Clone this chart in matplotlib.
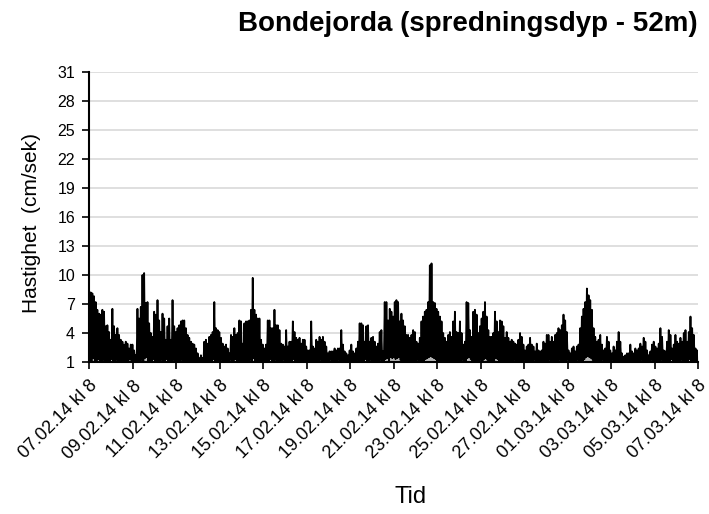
import matplotlib
matplotlib.use('Agg')
import matplotlib.pyplot as plt
import numpy as np
import pandas as pd

plt.rcParams['font.family'] = ['Liberation Sans', 'DejaVu Sans']

# time span of the record
start = '2014-02-07 08:00'
end = '2014-03-07 08:00'

# local maxima of current speed (cm/s), read left to right
peaks = [
    8.4, 8.2, 8.1, 7.8, 7.2, 6.4, 6.0, 5.9, 6.4, 6.2,
    4.7, 4.8, 4.1, 3.3, 6.5, 4.7, 3.8, 4.5, 3.8, 3.3,
    3.1, 2.8, 3.1, 2.9, 2.4, 2.8, 2.8, 2.2, 1.7, 6.5,
    5.5, 6.7, 10.0, 10.2, 7.1, 7.2, 5.0, 4.0, 3.6, 6.2,
    5.9, 7.4, 5.3, 4.1, 6.0, 5.5, 3.3, 4.7, 5.5, 3.3,
    7.4, 4.7, 4.1, 4.5, 4.8, 5.2, 5.3, 5.3, 4.5, 3.8,
    3.5, 3.1, 2.9, 2.8, 2.4, 1.9, 1.4, 1.7, 1.4, 3.1,
    3.3, 2.9, 3.6, 3.8, 4.1, 7.2, 4.5, 4.3, 4.1, 3.5,
    2.9, 2.6, 2.8, 2.4, 1.9, 3.8, 3.6, 4.5, 3.8, 4.0,
    5.3, 5.2, 2.9, 5.0, 5.2, 5.2, 5.3, 6.4, 9.7, 6.4,
    5.9, 5.5, 5.5, 3.3, 2.8, 2.4, 2.8, 5.3, 5.3, 4.5,
    4.5, 6.4, 4.8, 4.8, 4.3, 2.9, 2.8, 2.6, 4.3, 2.6,
    3.1, 3.1, 5.2, 4.1, 3.5, 3.3, 3.5, 2.9, 3.3, 3.3,
    2.6, 2.2, 2.2, 5.2, 2.6, 2.4, 3.3, 3.1, 3.6, 3.3,
    3.6, 3.1, 2.6, 1.9, 2.1, 2.1, 2.1, 2.4, 2.2, 2.4,
    2.4, 4.3, 2.8, 2.1, 1.9, 1.7, 2.2, 2.8, 2.1, 1.9,
    2.4, 3.1, 5.0, 5.0, 4.8, 3.1, 4.7, 4.8, 3.1, 3.5,
    3.6, 3.1, 2.6, 2.9, 4.1, 4.3, 2.1, 7.2, 7.2, 5.3,
    6.5, 6.2, 5.7, 7.2, 7.4, 7.2, 5.2, 6.0, 5.3, 4.7,
    3.8, 3.8, 3.5, 3.8, 4.3, 4.1, 3.1, 2.9, 3.5, 5.2,
    5.7, 6.2, 6.4, 7.2, 11.0, 11.2, 7.2, 7.1, 6.5, 6.2,
    5.7, 5.2, 4.0, 3.5, 3.1, 3.8, 4.1, 3.6, 5.2, 6.2,
    4.1, 4.0, 5.2, 4.0, 2.8, 3.1, 7.2, 7.1, 4.3, 3.6,
    6.2, 6.4, 5.9, 4.0, 4.7, 5.5, 6.2, 7.2, 5.7, 4.3,
    3.6, 3.6, 4.0, 6.2, 5.2, 4.1, 5.3, 5.2, 4.7, 3.5,
    4.1, 3.5, 3.1, 3.3, 3.1, 2.9, 2.8, 3.3, 4.0, 3.6,
    2.8, 2.2, 2.6, 2.8, 3.5, 2.8, 2.6, 2.1, 2.9, 2.2,
    2.1, 2.2, 3.1, 2.9, 3.8, 3.8, 3.1, 3.6, 3.1, 3.8,
    4.0, 4.5, 4.3, 4.8, 5.9, 5.3, 4.1, 2.2, 1.9, 2.4,
    2.6, 2.1, 2.6, 2.8, 4.5, 5.7, 6.5, 7.2, 8.6, 7.9,
    7.4, 6.4, 4.5, 3.6, 3.1, 3.3, 3.8, 2.8, 2.2, 2.4,
    3.6, 3.1, 2.2, 1.9, 2.6, 2.2, 3.1, 4.1, 3.1, 1.9,
    1.55, 1.7, 1.9, 1.9, 2.8, 2.1, 1.9, 2.4, 2.2, 2.4,
    2.9, 2.6, 3.5, 3.1, 2.2, 1.7, 2.1, 2.8, 3.1, 2.6,
    2.4, 2.9, 4.5, 3.6, 2.2, 2.1, 3.1, 4.3, 3.8, 2.4,
    2.8, 3.8, 3.1, 2.9, 3.5, 3.1, 4.0, 4.3, 3.1, 4.1,
    5.7, 4.5, 3.8, 2.4, 2.2,
]

# local minima between the maxima (cm/s)
troughs = [
    1.2, 1.0, 1.4, 1.1, 1.0, 1.3, 1.0, 1.1, 1.2, 1.0,
    1.0, 1.1, 1.0, 1.3, 1.0, 1.0, 1.2, 1.0, 1.1, 1.0,
    1.0, 1.2, 1.0, 1.1, 1.3, 1.0, 1.0, 1.2, 1.0, 1.1,
    1.0, 1.2, 1.0, 1.4, 1.5, 1.0, 1.1, 1.0, 1.3, 1.0,
    1.0, 1.1, 1.0, 1.2, 1.0, 1.0, 1.3, 1.0, 1.1, 1.0,
    1.2, 1.0, 1.1, 1.0, 1.0, 1.2, 1.0, 1.1, 1.0, 1.0,
    1.1, 1.0, 1.0, 1.2, 1.0, 1.0, 1.1, 1.0, 1.0, 1.2,
    1.0, 1.1, 1.0, 1.0, 1.3, 1.0, 1.1, 1.0, 1.0, 1.2,
    1.0, 1.0, 1.1, 1.0, 1.2, 1.0, 1.0, 1.3, 1.0, 1.1,
    1.0, 1.2, 1.0, 1.1, 1.0, 1.0, 1.2, 1.0, 1.4, 1.0,
    1.1, 1.0, 1.0, 1.2, 1.0, 1.1, 1.0, 1.0, 1.3, 1.0,
    1.0, 1.2, 1.0, 1.0, 1.1, 1.0, 1.2, 1.0, 1.0, 1.1,
    1.0, 1.0, 1.3, 1.0, 1.1, 1.0, 1.0, 1.2, 1.0, 1.0,
    1.1, 1.0, 1.0, 1.2, 1.0, 1.0, 1.1, 1.0, 1.2, 1.0,
    1.0, 1.1, 1.0, 1.0, 1.2, 1.0, 1.1, 1.0, 1.0, 1.2,
    1.0, 1.0, 1.1, 1.0, 1.0, 1.2, 1.0, 1.0, 1.1, 1.0,
    1.2, 1.0, 1.0, 1.1, 1.0, 1.3, 1.0, 1.0, 1.2, 1.0,
    1.0, 1.1, 1.0, 1.0, 1.2, 1.0, 1.0, 1.3, 1.4, 1.0,
    1.5, 1.4, 1.5, 1.3, 1.4, 1.5, 1.2, 1.0, 1.1, 1.0,
    1.0, 1.2, 1.0, 1.1, 1.0, 1.0, 1.2, 1.0, 1.0, 1.1,
    1.0, 1.3, 1.4, 1.5, 1.6, 1.5, 1.4, 1.3, 1.0, 1.1,
    1.0, 1.0, 1.2, 1.0, 1.0, 1.1, 1.0, 1.0, 1.2, 1.0,
    1.1, 1.0, 1.0, 1.2, 1.0, 1.0, 1.4, 1.5, 1.3, 1.0,
    1.0, 1.1, 1.0, 1.0, 1.2, 1.0, 1.3, 1.4, 1.2, 1.0,
    1.0, 1.0, 1.1, 1.4, 1.3, 1.0, 1.1, 1.0, 1.0, 1.2,
    1.0, 1.1, 1.0, 1.0, 1.2, 1.0, 1.0, 1.1, 1.0, 1.0,
    1.2, 1.0, 1.0, 1.1, 1.0, 1.0, 1.2, 1.0, 1.0, 1.1,
    1.0, 1.0, 1.1, 1.0, 1.0, 1.2, 1.0, 1.0, 1.1, 1.0,
    1.0, 1.2, 1.0, 1.1, 1.0, 1.0, 1.2, 1.0, 1.0, 1.1,
    1.0, 1.0, 1.2, 1.0, 1.0, 1.1, 1.3, 1.5, 1.6, 1.5,
    1.4, 1.2, 1.0, 1.0, 1.1, 1.0, 1.0, 1.2, 1.0, 1.0,
    1.1, 1.0, 1.0, 1.2, 1.0, 1.0, 1.1, 1.0, 1.0, 1.0,
    1.0, 1.1, 1.0, 1.0, 1.2, 1.0, 1.0, 1.1, 1.0, 1.0,
    1.2, 1.0, 1.0, 1.1, 1.0, 1.0, 1.2, 1.0, 1.0, 1.1,
    1.0, 1.0, 1.2, 1.0, 1.0, 1.1, 1.0, 1.0, 1.3, 1.0,
    1.0, 1.1, 1.0, 1.0, 1.2, 1.0, 1.0, 1.1, 1.0, 1.3,
    1.0, 1.2, 1.0, 1.1, 1.0,
]

yticks = [1, 4, 7, 10, 13, 16, 19, 22, 25, 28, 31]
tick_days = pd.date_range(start, end, freq='2D')
tick_labels = [d.strftime('%d.%m.%y') + ' kl 8' for d in tick_days]

speed = np.column_stack([peaks, troughs]).ravel()
times = pd.date_range(start, end, periods=len(speed))

fig = plt.figure(figsize=(7.09, 5.14), dpi=100)
ax = fig.add_axes([89 / 709, 1 - 362 / 514, 609 / 709, 290 / 514])

ax.fill_between(times, 1, speed, color='#b5b5b5', lw=0)
ax.plot(times, speed, color='black', lw=1.3)

ax.set_xlim(pd.Timestamp(start), pd.Timestamp(end))
ax.set_ylim(1, 31)
ax.set_yticks(yticks)
ax.yaxis.grid(True, color='#dcdcdc', lw=1.3)
ax.set_axisbelow(True)

ax.set_xticks(tick_days)
ax.set_xticklabels(tick_labels, rotation=45, ha='right', va='top',
                   rotation_mode='anchor', fontsize=13)
ax.tick_params(axis='y', labelsize=11.5, length=5, width=1.2, pad=5)
ax.tick_params(axis='x', length=5, width=1.2, pad=6)

for s in ['top', 'right']:
    ax.spines[s].set_visible(False)
for s in ['left', 'bottom']:
    ax.spines[s].set_linewidth(1.5)

ax.set_ylabel('Hastighet  (cm/sek)', fontsize=15)
ax.yaxis.set_label_coords(-0.078, 0.48)
fig.text(411 / 709, 1 - 497 / 514, 'Tid', fontsize=17, ha='center', va='center')
fig.text(698 / 709, 1 - 24 / 514, 'Bondejorda (spredningsdyp - 52m)',
         fontsize=20, fontweight='bold', ha='right', va='center')

fig.savefig('out.png', dpi=100)
